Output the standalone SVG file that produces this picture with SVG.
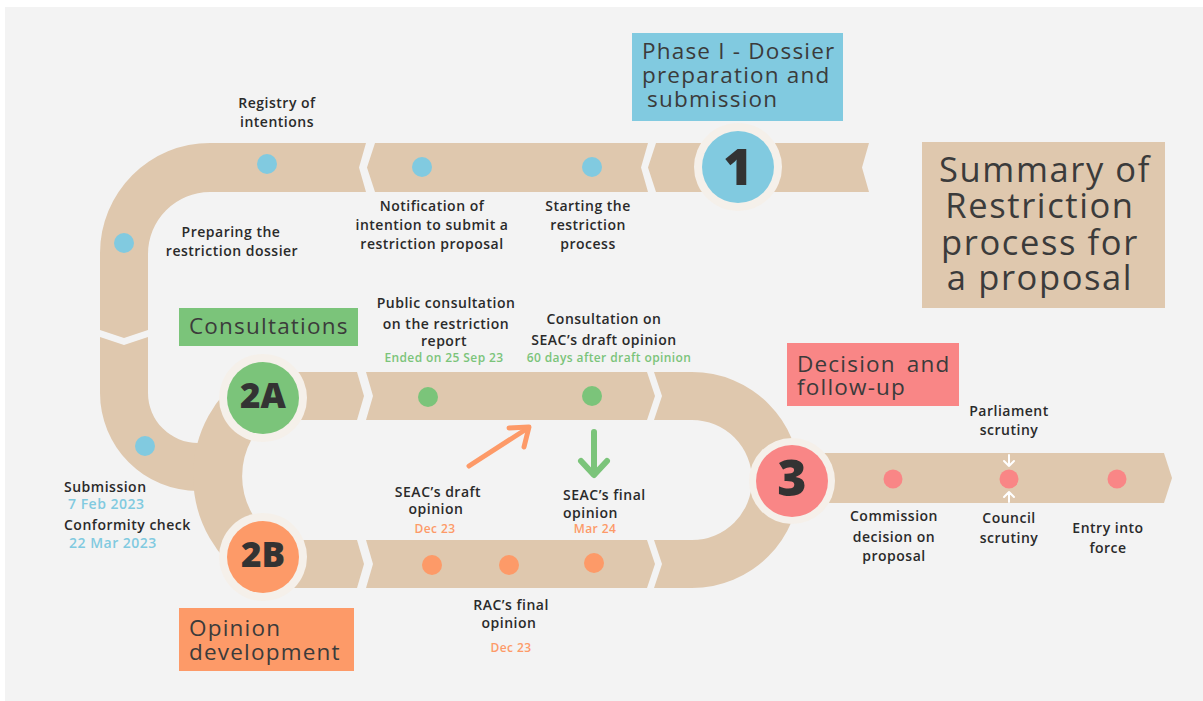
<svg xmlns="http://www.w3.org/2000/svg" width="1203" height="701" viewBox="0 0 1203 701">
<style>
.bg{fill:#f3f3f3}
.trk{fill:#dfc8ae}
.trks{fill:none;stroke:#dfc8ae;stroke-width:49}
.ring{fill:#f5f0ea}
.blue{fill:#81cae0}
.green{fill:#7bc47a}
.orange{fill:#fd9a68}
.pink{fill:#f98686}
.num{font-family:"Open Sans","Liberation Sans",sans-serif;font-weight:800;fill:#333;text-anchor:middle}
.ttl{font-family:"Open Sans","Liberation Sans",sans-serif;font-weight:500;fill:#3b3b3b;letter-spacing:1.2px}
.lbl{font-family:"Open Sans","Liberation Sans",sans-serif;font-weight:600;font-size:14px;letter-spacing:0.5px;fill:#2a2a2a;text-anchor:middle}
.lbll{font-family:"Open Sans","Liberation Sans",sans-serif;font-weight:600;font-size:14px;letter-spacing:0.5px;fill:#2a2a2a}
.date{font-family:"Open Sans","Liberation Sans",sans-serif;font-weight:600;font-size:12px;letter-spacing:0.4px;text-anchor:middle}
.dl{font-family:"Open Sans","Liberation Sans",sans-serif;font-weight:600;font-size:14px;letter-spacing:0.5px}
.tb{fill:#81cae0}.tg{fill:#7bc47a}.to{fill:#fd9a68}
</style>
<rect x="0" y="0" width="1203" height="701" fill="#ffffff"/>
<rect class="bg" x="5" y="7" width="1198" height="694"/>

<g id="track">
<path class="trk" d="M210 143 L366 143 L359 167.5 L366 192 L210 192 A62 62 0 0 0 148 254 L148 330 L124 338 L100 330 L100 253 A110 110 0 0 1 210 143 Z"/>
<path class="trk" d="M375 143 L648 143 L641 167.5 L648 192 L375 192 L367 167.5 Z"/>
<path class="trk" d="M656 143 L869 143 L862 167.5 L869 192 L656 192 L648 167.5 Z"/>
<path class="trk" d="M100 337 L124 345 L148 337 L148 393 A50 50 0 0 0 198 443 L215 443 L215 491 L198 491 A98 98 0 0 1 100 393 Z"/>
<path class="trks" d="M260 394 A100.5 100.5 0 0 0 261.5 559"/>
<path class="trk" d="M263 372 L357 372 L364 396 L357 420 L263 420 Z"/>
<path class="trk" d="M366 372 L647 372 L655 396 L647 420 L366 420 L373 396 Z"/>
<path class="trk" d="M263 540 L357 540 L364 564 L357 588 L263 588 Z"/>
<path class="trk" d="M366 540 L647 540 L655 564 L647 588 L366 588 L373 564 Z"/>
<path class="trk" d="M654 372 L692 372 A108 108 0 0 1 692 588 L654 588 L662 564 L654 540 L692 540 A60 60 0 0 0 692 420 L654 420 L662 396 Z"/>
<path class="trk" d="M792 453 L1164 453 L1172 478 L1164 503 L792 503 Z"/>
</g>

<g id="title">
<rect class="trk" x="922" y="142" width="243" height="166"/>
<text class="ttl" font-size="34.5" text-anchor="middle" style="letter-spacing:1.6px"><tspan x="1045" y="182">Summary of</tspan><tspan x="1040" y="218">Restriction</tspan><tspan x="1040" y="255">process for</tspan><tspan x="1040" y="290">a proposal</tspan></text>
</g>

<g id="phase1">
<rect class="blue" x="632" y="33" width="211" height="88"/>
<text class="ttl" font-size="22.5"><tspan x="642" y="59">Phase I - Dossier</tspan><tspan x="642" y="83">preparation and</tspan><tspan x="647" y="107">submission</tspan></text>
<circle class="ring" cx="738" cy="167" r="44"/>
<circle class="blue" cx="738" cy="167" r="36"/>
<text class="num" x="738" y="185" font-size="50">1</text>
</g>

<g id="registry">
<circle class="blue" cx="267" cy="164" r="10"/>
<text class="lbl"><tspan x="277" y="108">Registry of</tspan><tspan x="277" y="127">intentions</tspan></text>
</g>
<g id="notification">
<circle class="blue" cx="422" cy="167" r="10"/>
<text class="lbl"><tspan x="432" y="211">Notification of</tspan><tspan x="432" y="230">intention to submit a</tspan><tspan x="432" y="249">restriction proposal</tspan></text>
</g>
<g id="starting">
<circle class="blue" cx="592" cy="167" r="10"/>
<text class="lbl"><tspan x="588" y="211">Starting the</tspan><tspan x="588" y="230">restriction</tspan><tspan x="588" y="249">process</tspan></text>
</g>
<g id="preparing">
<circle class="blue" cx="124" cy="243" r="10"/>
<text class="lbl"><tspan x="231" y="237">Preparing the</tspan><tspan x="232" y="256">restriction dossier</tspan></text>
</g>
<g id="submission">
<circle class="blue" cx="145" cy="446" r="10"/>
<text class="dl"><tspan x="64" y="492" fill="#2a2a2a">Submission</tspan><tspan x="68" y="509" class="tb">7 Feb 2023</tspan><tspan x="64" y="530" fill="#2a2a2a">Conformity check</tspan><tspan x="69" y="548" class="tb">22 Mar 2023</tspan></text>
</g>

<g id="consultations">
<rect class="green" x="179" y="308" width="179" height="38"/>
<text class="ttl" font-size="22.5" x="189" y="334">Consultations</text>
<circle class="ring" cx="263" cy="398" r="44"/>
<circle class="green" cx="263" cy="398" r="36"/>
<text class="num" x="263" y="408" font-size="35">2A</text>
</g>
<g id="opinion">
<rect class="orange" x="179" y="608" width="175" height="63"/>
<text class="ttl" font-size="22.5"><tspan x="189" y="636">Opinion</tspan><tspan x="189" y="660">development</tspan></text>
<circle class="ring" cx="263" cy="557" r="44"/>
<circle class="orange" cx="263" cy="557" r="36"/>
<text class="num" x="263" y="567" font-size="35">2B</text>
</g>

<g id="public-consultation">
<circle class="green" cx="428" cy="397" r="10"/>
<text class="lbl"><tspan x="446" y="308">Public consultation</tspan><tspan x="446" y="329">on the restriction</tspan><tspan x="444" y="346">report</tspan></text>
<text class="date tg" x="444" y="362">Ended on 25 Sep 23</text>
</g>
<g id="seac-consultation">
<circle class="green" cx="592" cy="396" r="10"/>
<text class="lbl"><tspan x="604" y="324">Consultation on</tspan><tspan x="604" y="345">SEAC’s draft opinion</tspan></text>
<text class="date tg" x="609" y="362">60 days after draft opinion</text>
</g>
<g id="seac-draft">
<circle class="orange" cx="432" cy="565" r="10"/>
<text class="lbl"><tspan x="438" y="497">SEAC’s draft</tspan><tspan x="436" y="514">opinion</tspan></text>
<text class="date to" x="435" y="533">Dec  23</text>
</g>
<g id="rac-final">
<circle class="orange" cx="509" cy="565" r="10"/>
<text class="lbl"><tspan x="511" y="610">RAC’s final</tspan><tspan x="509" y="628">opinion</tspan></text>
<text class="date to" x="511" y="652">Dec  23</text>
</g>
<g id="seac-final">
<circle class="orange" cx="594" cy="563" r="10"/>
<text class="lbll"><tspan x="563" y="500">SEAC’s final</tspan><tspan x="563" y="518">opinion</tspan></text>
<text class="date to" x="595" y="533">Mar 24</text>
</g>

<g id="decision">
<rect class="pink" x="787" y="343" width="172" height="63"/>
<text class="ttl" font-size="22.5"><tspan x="797" y="372" word-spacing="4">Decision and</tspan><tspan x="797" y="395">follow-up</tspan></text>
<circle class="ring" cx="792" cy="481" r="43"/>
<circle class="pink" cx="792" cy="481" r="36"/>
<text class="num" x="792" y="496" font-size="50">3</text>
</g>
<g id="commission">
<circle class="pink" cx="893" cy="479" r="9.5"/>
<text class="lbl"><tspan x="894" y="521">Commission</tspan><tspan x="894" y="542">decision on</tspan><tspan x="894" y="561">proposal</tspan></text>
</g>
<g id="scrutiny">
<circle class="pink" cx="1009" cy="479" r="9.5"/>
<text class="lbl"><tspan x="1009" y="416">Parliament</tspan><tspan x="1009" y="435">scrutiny</tspan></text>
<text class="lbl"><tspan x="1009" y="523">Council</tspan><tspan x="1009" y="543">scrutiny</tspan></text>
</g>
<g id="entry">
<circle class="pink" cx="1117" cy="479" r="9.5"/>
<text class="lbl"><tspan x="1108" y="533">Entry into</tspan><tspan x="1108" y="553">force</tspan></text>
</g>

<g id="connectors" fill="none" stroke-linecap="round" stroke-linejoin="round">
<path d="M469 466 L528 428" stroke="#fd9a68" stroke-width="5"/>
<path d="M509 428 L529 427 L524 447" stroke="#fd9a68" stroke-width="5"/>
<path d="M594 432 L594 474" stroke="#7bc47a" stroke-width="6"/>
<path d="M581 461 L594 475 L607 461" stroke="#7bc47a" stroke-width="6"/>
<path d="M1009 455 L1009 466 M1004 461 L1009 466 L1014 461" stroke="#ffffff" stroke-width="2"/>
<path d="M1009 502 L1009 492 M1004 497 L1009 492 L1014 497" stroke="#ffffff" stroke-width="2"/>
</g>
</svg>
